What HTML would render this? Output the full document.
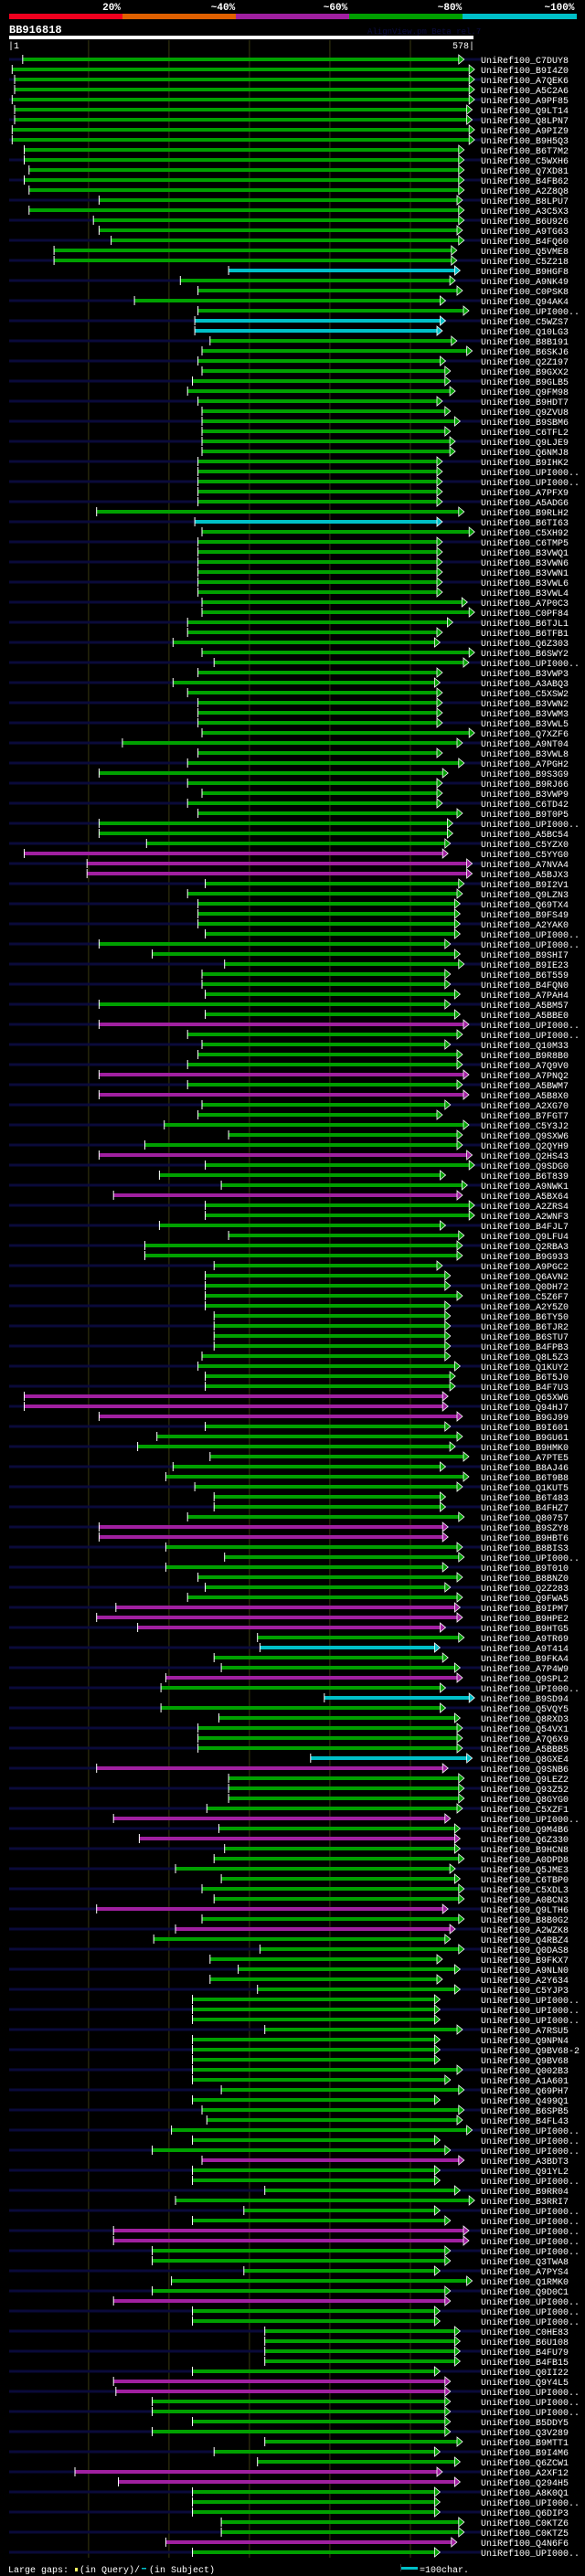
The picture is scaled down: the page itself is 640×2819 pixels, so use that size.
<!DOCTYPE html>
<html><head><meta charset="utf-8"><style>
html,body{margin:0;padding:0;background:#000;}
svg{display:block;font-family:"Liberation Mono","DejaVu Sans Mono",monospace;}
</style></head><body>
<svg id="chart" width="640" height="2819" viewBox="0 0 640 2819" xmlns="http://www.w3.org/2000/svg">
<rect x="0" y="0" width="640" height="2819" fill="#000"/>
<g font-size="11" font-weight="bold" fill="#fff" text-anchor="middle">
<text x="122" y="11">20%</text><text x="244" y="11">~40%</text><text x="367" y="11">~60%</text><text x="492" y="11">~80%</text><text x="612" y="11">~100%</text>
<rect x="10" y="15" width="124" height="6" fill="#f0001e"/>
<rect x="134" y="15" width="124" height="6" fill="#e06000"/>
<rect x="258" y="15" width="124" height="6" fill="#a020a0"/>
<rect x="382" y="15" width="124" height="6" fill="#00a000"/>
<rect x="506" y="15" width="125" height="6" fill="#00c0c8"/>
</g>
<text x="10" y="36" fill="#fff" font-size="12" font-weight="bold">BB916818</text>
<text x="402" y="37" fill="#0c0c40" font-size="9">AlignView.pm Beta rel.7</text>
<rect x="10" y="39" width="508" height="4" fill="#fff"/>
<text x="9" y="53" fill="#fff" font-size="10">|1</text>
<text x="519" y="53" fill="#fff" font-size="10" text-anchor="end">578|</text>
<g id="grid"></g>
<g id="rows"></g>
<g font-size="10" fill="#fff">
<text x="9" y="2815">Large gaps: </text>
<rect x="82" y="2810" width="3" height="4" fill="#ffff60"/>
<text x="87" y="2815">(in Query)/</text>
<rect x="155" y="2810" width="5" height="1.5" fill="#00c0c8"/>
<text x="163" y="2815">(in Subject)</text>
<rect x="439" y="2809" width="18" height="3" fill="#00c0c8"/>
<rect x="438" y="2806" width="1" height="8" fill="#333"/>
<text x="459" y="2815">=100char.</text>
</g>
</svg>
<script>
const gridPositions = [100, 200, 300, 400, 500];
const names = ["C7DUY8","B9I4Z0","A7QEK6","A5C2A6","A9PF85","Q9LT14","Q8LPN7","A9PIZ9","B9H5Q3","B6T7M2","C5WXH6","Q7XD81","B4FB62","A2Z8Q8","B8LPU7","A3C5X3","B6U926","A9TG63","B4FQ60","Q5VME8","C5Z218","B9HGF8","A9NK49","C0PSK8","Q94AK4","UPI000..","C5WZS7","Q10LG3","B8B191","B6SKJ6","Q2Z197","B9GXX2","B9GLB5","Q9FM98","B9HDT7","Q9ZVU8","B9SBM6","C6TFL2","Q9LJE9","Q6NMJ8","B9IHK2","UPI000..","UPI000..","A7PFX9","A5ADG6","B9RLH2","B6TI63","C5XH92","C6TMP5","B3VWQ1","B3VWN6","B3VWN1","B3VWL6","B3VWL4","A7P0C3","C0PF84","B6TJL1","B6TFB1","Q6Z303","B6SWY2","UPI000..","B3VWP3","A3ABQ3",
"C5XSW2","B3VWN2","B3VWM3","B3VWL5","Q7XZF6","A9NT04","B3VWL8","A7PGH2","B9S3G9","B9RJ66","B3VWP9","C6TD42","B9T0P5","UPI000..","A5BC54","C5YZX0","C5YYG0","A7NVA4","A5BJX3","B9I2V1","Q9LZN3","Q69TX4","B9FS49","A2YAK0","UPI000..","UPI000..","B9SHI7","B9IE23","B6T559","B4FQN0","A7PAH4","A5BM57","A5BBE0","UPI000..","UPI000..","Q10M33","B9R8B0","A7Q9V0","A7PNQ2","A5BWM7","A5B8X0","A2XG70","B7FGT7","C5Y3J2","Q9SXW6","Q2QYH9","Q2HS43","Q9SDG0","B6T839","A9NWK1","A5BX64","A2ZRS4","A2WNF3","B4FJL7","Q9LFU4","Q2RBA3","B9G933","A9PGC2","Q6AVN2","Q0DH72","C5Z6F7","A2Y5Z0","B6TY50",
"B6TJR2","B6STU7","B4FPB3","Q8L5Z3","Q1KUY2","B6T5J0","B4F7U3","Q65XW6","Q94HJ7","B9GJ99","B9I601","B9GU61","B9HMK0","A7PTE5","B8AJ46","B6T9B8","Q1KUT5","B6T483","B4FHZ7","Q80757","B9SZY8","B9HBT6","B8BIS3","UPI000..","B9T010","B8BNZ0","Q2Z283","Q9FWA5","B9IPM7","B9HPE2","B9HTG5","A9TR69","A9T414","B9FKA4","A7P4W9","Q9SPL2","UPI000..","B9SD94","Q5VQY5","Q8RXD3","Q54VX1","A7Q6X9","A5BBB5","Q8GXE4","Q9SNB6","Q9LEZ2","Q93Z52","Q8GYG0","C5XZF1","UPI000..","Q9M4B6","Q6Z330","B9HCN8","A0DPD8","Q5JME3","C6TBP0","C5XDL3","A0BCN3","Q9LTH6","B8B0G2","A2WZK8","Q4RBZ4","Q0DAS8",
"B9FKX7","A9NLN0","A2Y634","C5YJP3","UPI000..","UPI000..","UPI000..","A7RSU5","Q9NPN4","Q9BV68-2","Q9BV68","Q002B3","A1A601","Q69PH7","Q499Q1","B6SPB5","B4FL43","UPI000..","UPI000..","UPI000..","A3BDT3","Q91YL2","UPI000..","B9RR04","B3RRI7","UPI000..","UPI000..","UPI000..","UPI000..","UPI000..","Q3TWA8","A7PYS4","Q1RMK0","Q9D0C1","UPI000..","UPI000..","UPI000..","C0HE83","B6U108","B4FU79","B4FB15","Q0II22","Q9Y4L5","UPI000..","UPI000..","UPI000..","B5DDY5","Q3V289","B9MTT1","B9I4M6","Q6ZCW1","A2XF12","Q294H5","A8K0Q1","UPI000..","Q6DIP3","C0KTZ6","C0KTZ5","Q4N6F6","UPI000.."];
const starts = [18,5,8,8,5,8,8,5,5,20,20,26,20,26,113,26,106,113,128,57,57,274,214,236,157,236,232,232,251,241,236,241,229,223,236,241,241,241,241,241,236,236,236,236,236,110,232,241,236,236,236,236,236,236,241,241,223,223,205,241,256,236,205,
223,236,236,236,241,142,236,223,113,223,241,223,236,113,113,172,20,98,98,245,223,236,236,236,245,113,179,269,241,241,245,113,245,113,223,241,236,223,113,223,113,241,236,194,274,170,113,245,188,265,131,245,245,188,274,170,170,256,245,245,245,245,256,
256,256,256,241,236,245,245,20,20,113,245,185,161,251,205,196,232,256,256,223,113,113,196,269,196,236,245,223,134,110,161,310,313,256,265,196,190,393,190,262,236,236,236,376,110,274,274,274,247,131,262,163,269,256,208,265,241,256,110,241,208,181,313,
251,286,251,310,229,229,229,319,229,229,229,229,229,265,229,241,247,203,229,179,241,229,229,319,208,293,229,131,131,179,179,293,203,179,131,229,229,319,319,319,319,229,131,134,179,179,229,179,319,256,310,83,137,229,229,229,265,265,196,229];
const ends = [560,573,573,573,573,570,570,573,573,560,560,560,560,560,558,560,560,558,560,551,551,555,549,558,537,566,537,533,551,570,537,543,543,549,533,543,555,543,549,549,533,533,533,533,533,560,533,573,533,533,533,533,533,533,564,573,546,533,530,573,566,533,530,
533,533,533,533,573,558,533,560,540,533,533,533,558,546,546,543,540,570,570,560,558,555,555,555,555,543,555,560,543,543,555,543,555,566,558,543,558,558,566,558,566,543,533,566,558,558,570,573,537,564,558,573,573,537,560,558,558,533,543,543,558,543,543,
543,543,543,543,555,549,549,540,540,558,543,558,549,566,537,566,558,537,537,560,540,540,558,560,540,558,543,558,555,558,537,560,530,540,555,558,537,573,537,555,558,558,558,570,540,560,560,560,558,543,555,555,555,560,549,555,560,560,540,560,549,543,560,
533,555,533,555,530,530,530,558,530,530,530,558,543,560,530,560,558,570,530,543,560,530,530,555,573,530,543,566,566,543,543,530,570,543,543,530,530,555,555,555,555,530,543,543,543,543,543,543,558,530,555,533,555,530,530,530,560,560,551,530];
const cyanRows = [21,26,27,46,158,163,169];
const magentaRows = [79,80,81,96,101,103,109,113,133,134,135,146,147,154,155,156,161,170,175,177,184,186,209,216,217,223,231,232,240,241,247];
</script>
<script>
const NS = "http://www.w3.org/2000/svg";
const X0 = 9.8, X1 = 517.6, QLEN = 578;
function xScale(p){ return X0 + (p - 1) * (X1 - X0) / (QLEN - 1); }
function rowY(i){ return 65 + 11 * i; }
function rowColor(i){
  if (cyanRows.indexOf(i) >= 0) return "#00c0c8";
  if (magentaRows.indexOf(i) >= 0) return "#a020a0";
  return "#00a000";
}
const gridG = document.getElementById('grid');
gridPositions.forEach(function(p){
  const l = document.createElementNS(NS,'rect');
  l.setAttribute('x', (xScale(p) - 0.5).toFixed(1));
  l.setAttribute('y', 44); l.setAttribute('width', 1); l.setAttribute('height', 2755);
  l.setAttribute('fill', '#3a3a10');
  
  
  gridG.appendChild(l);
});
const rowsG = document.getElementById('rows');
for (let i = 0; i < names.length; i++) {
  const y = rowY(i);
  const g = document.createElementNS(NS,'g');
  
  
  if (i % 2 === 0) {
    const s = document.createElementNS(NS,'rect');
    s.setAttribute('x', 10); s.setAttribute('y', y - 1.5); s.setAttribute('width', 516); s.setAttribute('height', 3);
    s.setAttribute('fill', '#0a0a3a');
    
    
    g.appendChild(s);
  }
  const col = rowColor(i);
  const xs = xScale(starts[i]), xe = xScale(ends[i]);
  const b = document.createElementNS(NS,'rect');
  b.setAttribute('x', xs.toFixed(1)); b.setAttribute('y', y - 2); b.setAttribute('width', (xe - xs).toFixed(1)); b.setAttribute('height', 4);
  b.setAttribute('fill', col);
  
  
  g.appendChild(b);
  const t = document.createElementNS(NS,'rect');
  t.setAttribute('x', (xs - 0.5).toFixed(1)); t.setAttribute('y', y - 5); t.setAttribute('width', 1); t.setAttribute('height', 10);
  t.setAttribute('fill', '#fff');
  
  
  g.appendChild(t);
  const a = document.createElementNS(NS,'polygon');
  a.setAttribute('points', xe.toFixed(1)+','+(y-5)+' '+(xe+6).toFixed(1)+','+y+' '+xe.toFixed(1)+','+(y+5));
  a.setAttribute('fill', col); a.setAttribute('stroke', '#fff'); a.setAttribute('stroke-width', '0.8');
  
  
  g.appendChild(a);
  const tx = document.createElementNS(NS,'text');
  tx.setAttribute('x', 526); tx.setAttribute('y', y + 4);
  tx.setAttribute('fill', '#fff'); tx.setAttribute('font-size', '10');
  tx.textContent = 'UniRef100_' + names[i];
  
  
  g.appendChild(tx);
  rowsG.appendChild(g);
}
</script>
</body></html>
